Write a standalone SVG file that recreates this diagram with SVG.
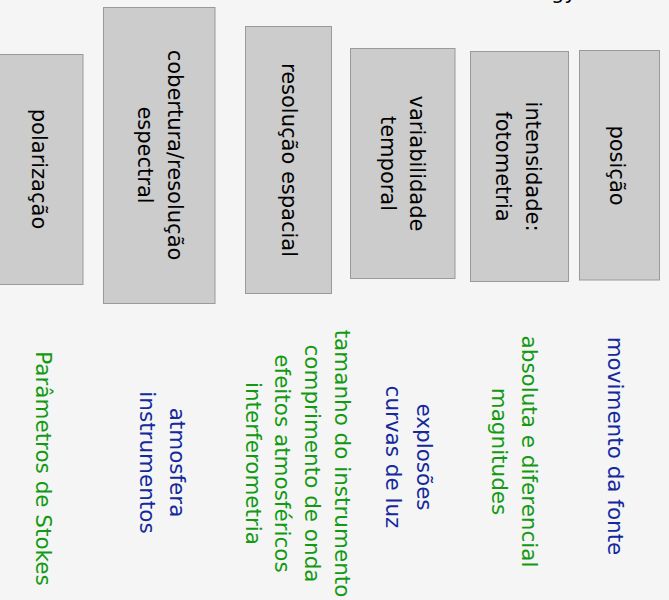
<svg xmlns="http://www.w3.org/2000/svg" width="669" height="600" viewBox="0 0 669 600">
<style>
.bg{fill:#f5f5f5}
.box{fill:#cccccc;stroke:#9a9a9a;stroke-width:1}
.lbl{font-family:"DejaVu Sans",Verdana,sans-serif;font-size:21px;fill:#000;text-anchor:middle;dominant-baseline:central}
.note{font-family:"DejaVu Sans",Verdana,sans-serif;font-size:21.5px;text-anchor:middle;dominant-baseline:central}
.blue{fill:#13299c}
.green{fill:#129a12}
</style>
<rect class="bg" x="0" y="0" width="669" height="600"/>
<text x="551" y="-1" style="font-family:'DejaVu Sans',sans-serif;font-size:21px;fill:#000">gy</text>
<g id="polarizacao">
<rect class="box" x="-6.5" y="54.5" width="89.5" height="230"/>
<text class="lbl" transform="translate(38.5,169) rotate(90)"><tspan x="0" y="0">polarização</tspan></text>
</g>
<g id="cobertura">
<rect class="box" x="103.5" y="7.5" width="111.5" height="296"/>
<text class="lbl" transform="translate(159.5,155) rotate(90)"><tspan x="0" y="-15">cobertura/resolução</tspan><tspan x="0" y="15">espectral</tspan></text>
</g>
<g id="resolucao">
<rect class="box" x="245.5" y="26.5" width="86" height="267"/>
<text class="lbl" transform="translate(288.5,160) rotate(90)"><tspan x="0" y="0">resolução espacial</tspan></text>
</g>
<g id="variabilidade">
<rect class="box" x="350.5" y="48.5" width="104.5" height="230"/>
<text class="lbl" transform="translate(402,163.5) rotate(90)"><tspan x="0" y="-14.5">variabilidade</tspan><tspan x="0" y="14.5">temporal</tspan></text>
</g>
<g id="intensidade">
<rect class="box" x="470.5" y="51.5" width="98" height="230"/>
<text class="lbl" transform="translate(518,166.5) rotate(90)"><tspan x="0" y="-15">intensidade:</tspan><tspan x="0" y="15">fotometria</tspan></text>
</g>
<g id="posicao">
<rect class="box" x="579.5" y="50.5" width="80" height="229.5"/>
<text class="lbl" transform="translate(617,165.5) rotate(90)"><tspan x="0" y="0">posição</tspan></text>
</g>
<g id="stokes">
<text class="note green" transform="translate(43.5,468.5) rotate(90)"><tspan x="0" y="0">Parâmetros de Stokes</tspan></text>
</g>
<g id="atmosfera">
<text class="note blue" transform="translate(163,462.5) rotate(90)"><tspan x="0" y="-15">atmosfera</tspan><tspan x="0" y="15">instrumentos</tspan></text>
</g>
<g id="tamanho">
<text class="note green" transform="translate(298,463.5) rotate(90)"><tspan x="0" y="-44.5">tamanho do instrumento</tspan><tspan x="0" y="-14.8">comprimento de onda</tspan><tspan x="0" y="14.8">efeitos atmosféricos</tspan><tspan x="0" y="44.5">interferometria</tspan></text>
</g>
<g id="explosoes">
<text class="note blue" transform="translate(409.5,457) rotate(90)"><tspan x="0" y="-15.5">explosões</tspan><tspan x="0" y="15.5">curvas de luz</tspan></text>
</g>
<g id="absoluta">
<text class="note green" transform="translate(515,451.5) rotate(90)"><tspan x="0" y="-14.8">absoluta e diferencial</tspan><tspan x="0" y="14.8">magnitudes</tspan></text>
</g>
<g id="movimento">
<text class="note blue" transform="translate(615.5,446) rotate(90)"><tspan x="0" y="0">movimento da fonte</tspan></text>
</g>
</svg>
